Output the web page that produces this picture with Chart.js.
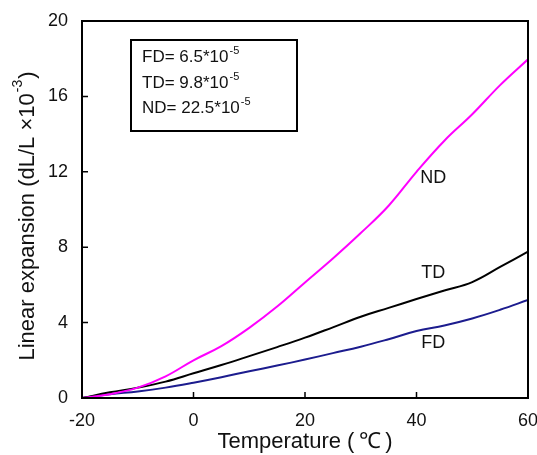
<!DOCTYPE html>
<html>
<head>
<meta charset="utf-8">
<script src="https://cdn.jsdelivr.net/npm/chart.js@4"></script>
<style>
  html, body { margin: 0; padding: 0; background: #fff; }
  #wrap { width: 537px; height: 455px; }
</style>
</head>
<body>
<div id="wrap"><canvas id="myChart"></canvas></div>
<script>
// temperature (C) and linear expansion (dL/L x10^-3)
const temps = [-20, -15, -10, -5, 0, 5, 10, 15, 20, 25, 30, 35, 40, 45, 50, 55, 60];
const ndValues = [0, 0.2, 0.55, 1.15, 2.0, 2.75, 3.72, 4.85, 6.13, 7.4, 8.75, 10.2, 12.0, 13.65, 15.05, 16.6, 17.97];
const tdValues = [0, 0.3, 0.55, 0.87, 1.31, 1.75, 2.22, 2.7, 3.2, 3.75, 4.31, 4.78, 5.25, 5.7, 6.15, 6.95, 7.76];
const fdValues = [0, 0.2, 0.35, 0.55, 0.81, 1.1, 1.42, 1.72, 2.04, 2.38, 2.72, 3.12, 3.55, 3.85, 4.22, 4.68, 5.2];
const xTicks = [-20, 0, 20, 40, 60];
const yTicks = [0, 4, 8, 12, 16, 20];
const coefLines = [['FD= 6.5*10', '-5'], ['TD= 9.8*10', '-5'], ['ND= 22.5*10', '-5']];
const curveLabels = [['ND', 43, 11.67], ['TD', 43, 6.63], ['FD', 43, 2.92]];

const FONT = '"Liberation Sans", Arial, sans-serif';

function pts(vals){
    return temps.map((t, i) => ({x: t, y: vals[i]}));
}

// frame, inward ticks, x tick labels, legend box, curve labels, y title
const extras = {
    id: 'extras',
    afterDraw(chart){
        const ctx = chart.ctx;
        const a = chart.chartArea;
        const xs = chart.scales.x, ys = chart.scales.y;
        ctx.save();
        ctx.strokeStyle = '#000';
        ctx.lineWidth = 2;
        ctx.strokeRect(a.left, a.top, a.right - a.left, a.bottom - a.top);
        ctx.lineWidth = 1.5;
        ctx.beginPath();
        xTicks.forEach(v => {
            const px = xs.getPixelForValue(v);
            ctx.moveTo(px, a.bottom); ctx.lineTo(px, a.bottom - 6);
        });
        yTicks.forEach(v => {
            const py = ys.getPixelForValue(v);
            ctx.moveTo(a.left, py); ctx.lineTo(a.left + 6, py);
        });
        ctx.stroke();

        ctx.fillStyle = '#111';
        ctx.font = '18px ' + FONT;
        ctx.textAlign = 'center';
        ctx.textBaseline = 'alphabetic';
        xTicks.forEach(v => {
            ctx.fillText(String(v), xs.getPixelForValue(v), a.bottom + 28);
        });

        // coefficient box
        ctx.lineWidth = 2;
        ctx.strokeRect(131, 40, 166, 91);
        ctx.textAlign = 'left';
        coefLines.forEach((ln, i) => {
            const y = 62 + i * 25.5;
            ctx.font = '17px ' + FONT;
            ctx.fillText(ln[0], 142, y);
            const w = ctx.measureText(ln[0]).width;
            ctx.font = '11px ' + FONT;
            ctx.fillText(ln[1], 142 + w + 1, y - 8);
        });

        // curve labels
        ctx.font = '18px ' + FONT;
        ctx.textAlign = 'center';
        ctx.textBaseline = 'middle';
        curveLabels.forEach(l => {
            ctx.fillText(l[0], xs.getPixelForValue(l[1]), ys.getPixelForValue(l[2]));
        });

        // y axis title with superscript
        ctx.translate(26, 216);
        ctx.rotate(-Math.PI / 2);
        const main = 'Linear expansion (dL/L \u00d710';
        const sup = '-3';
        const tail = ')';
        ctx.font = '22px ' + FONT;
        const w1 = ctx.measureText(main).width;
        const w3 = ctx.measureText(tail).width;
        ctx.font = '14px ' + FONT;
        const w2 = ctx.measureText(sup).width;
        let x0 = -(w1 + w2 + w3 + 2) / 2;
        ctx.textAlign = 'left';
        ctx.textBaseline = 'alphabetic';
        ctx.font = '22px ' + FONT;
        ctx.fillText(main, x0, 8);
        ctx.font = '14px ' + FONT;
        ctx.fillText(sup, x0 + w1 + 1, -4);
        ctx.font = '22px ' + FONT;
        ctx.fillText(tail, x0 + w1 + w2 + 2, 8);
        ctx.restore();
    }
};

var ctx = document.getElementById('myChart').getContext('2d');
var myChart = new Chart(ctx, {
    type: 'line',
    data: {
        datasets: [{
            label: 'ND',
            data: pts(ndValues),
            borderColor: '#ff00ff',
            borderWidth: 2
        }, {
            label: 'TD',
            data: pts(tdValues),
            borderColor: '#000000',
            borderWidth: 2
        }, {
            label: 'FD',
            data: pts(fdValues),
            borderColor: '#1c1c8e',
            borderWidth: 2
        }]
    },
    options: {
        responsive: true,
        maintainAspectRatio: false,
        animation: false,
        elements: {
            point: { radius: 0 },
            line: { tension: 0.4, fill: false }
        },
        layout: { padding: { top: 21, right: 9, left: 0, bottom: 0 } },
        plugins: {
            legend: { display: false },
            tooltip: { enabled: false }
        },
        scales: {
            x: {
                type: 'linear',
                min: -20,
                max: 60,
                afterBuildTicks: s => { s.ticks = xTicks.map(v => ({value: v})); },
                afterFit: s => { s.height = 57; },
                grid: { display: false },
                border: { display: false },
                ticks: { display: false },
                title: {
                    display: true,
                    text: 'Temperature (\u2009\u2103\u2009)',
                    color: '#111',
                    font: { family: FONT, size: 22 },
                    padding: { top: 0, bottom: 0 }
                }
            },
            y: {
                min: 0,
                max: 20,
                afterBuildTicks: s => { s.ticks = yTicks.map(v => ({value: v})); },
                afterFit: s => { s.width = 82; },
                grid: { display: false },
                border: { display: false },
                ticks: {
                    color: '#111',
                    font: { family: FONT, size: 18 },
                    padding: 6
                }
            }
        }
    },
    plugins: [extras]
});
</script>
</body>
</html>
